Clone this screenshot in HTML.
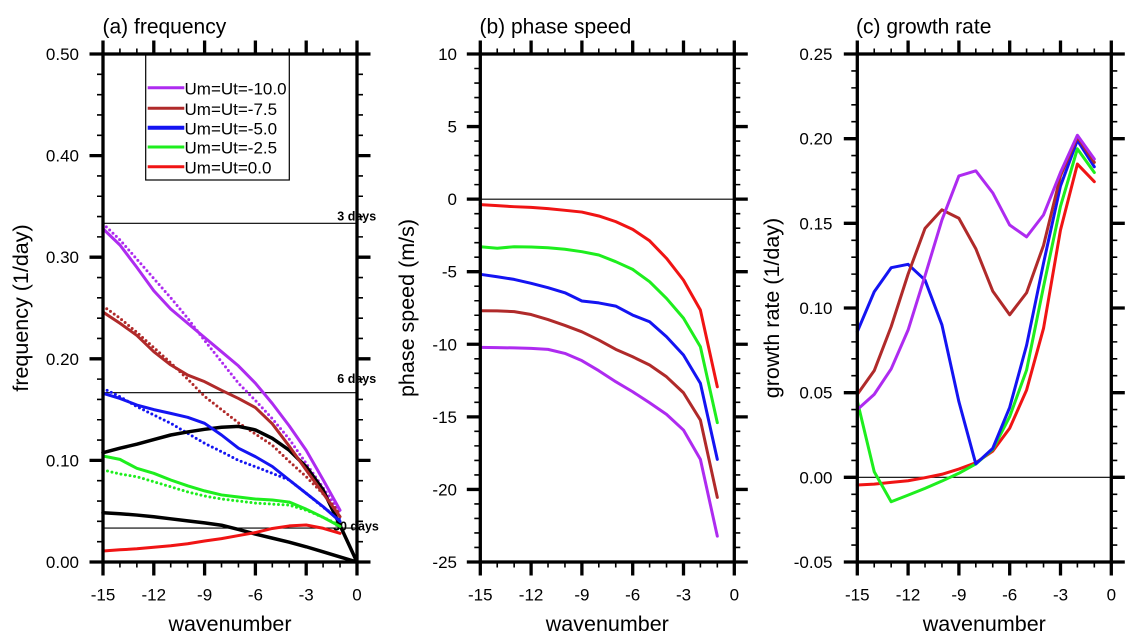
<!DOCTYPE html>
<html>
<head>
<meta charset="utf-8">
<style>
html,body{margin:0;padding:0;background:#fff;}
body{width:1144px;height:641px;overflow:hidden;}
svg{display:block;font-family:"Liberation Sans",Arial,Helvetica,sans-serif;}
.ns{vector-effect:non-scaling-stroke;fill:none;stroke-linejoin:round;stroke-linecap:round;}
.dot{fill:none;stroke-width:3;stroke-dasharray:0 4.6;stroke-linecap:round;stroke-linejoin:round;}
</style>
</head>
<body>
<svg width="1144" height="641" viewBox="0 0 1144 641" xmlns="http://www.w3.org/2000/svg">
<defs>
  <g id="xt">
    <path d="M103 562v13.5M153.8 562v13.5M204.6 562v13.5M255.4 562v13.5M306.2 562v13.5M357 562v13.5M103 54v-13.5M153.8 54v-13.5M204.6 54v-13.5M255.4 54v-13.5M306.2 54v-13.5M357 54v-13.5" stroke="#000" stroke-width="3.3"/>
    <path d="M119.93 562v5.5M136.86 562v5.5M170.72 562v5.5M187.65 562v5.5M221.51 562v5.5M238.44 562v5.5M272.3 562v5.5M289.23 562v5.5M323.09 562v5.5M340.02 562v5.5M119.93 54v-5.5M136.86 54v-5.5M170.72 54v-5.5M187.65 54v-5.5M221.51 54v-5.5M238.44 54v-5.5M272.3 54v-5.5M289.23 54v-5.5M323.09 54v-5.5M340.02 54v-5.5" stroke="#000" stroke-width="1.6"/>
  </g>
  <g id="ya">
    <path d="M103 54h-13.5M103 155.6h-13.5M103 257.2h-13.5M103 358.8h-13.5M103 460.4h-13.5M103 562h-13.5" stroke="#000" stroke-width="3.3"/>
    <path d="M103 74.32h-6M103 94.64h-6M103 114.96h-6M103 135.28h-6M103 175.92h-6M103 196.24h-6M103 216.56h-6M103 236.88h-6M103 277.52h-6M103 297.84h-6M103 318.16h-6M103 338.48h-6M103 379.12h-6M103 399.44h-6M103 419.76h-6M103 440.08h-6M103 480.72h-6M103 501.04h-6M103 521.36h-6M103 541.68h-6" stroke="#000" stroke-width="1.6"/>
  </g>
  <g id="yb">
    <path d="M480.3 54h-13.5M480.3 126.57h-13.5M480.3 199.14h-13.5M480.3 271.71h-13.5M480.3 344.28h-13.5M480.3 416.85h-13.5M480.3 489.42h-13.5M480.3 562h-13.5" stroke="#000" stroke-width="3.3"/>
    <path d="M480.3 68.51h-6M480.3 83.03h-6M480.3 97.54h-6M480.3 112.06h-6M480.3 141.08h-6M480.3 155.6h-6M480.3 170.11h-6M480.3 184.63h-6M480.3 213.65h-6M480.3 228.17h-6M480.3 242.68h-6M480.3 257.2h-6M480.3 286.22h-6M480.3 300.74h-6M480.3 315.25h-6M480.3 329.77h-6M480.3 358.79h-6M480.3 373.31h-6M480.3 387.82h-6M480.3 402.34h-6M480.3 431.36h-6M480.3 445.88h-6M480.3 460.39h-6M480.3 474.91h-6M480.3 503.93h-6M480.3 518.45h-6M480.3 532.96h-6M480.3 547.48h-6" stroke="#000" stroke-width="1.6"/>
  </g>
  <g id="yc">
    <path d="M857.3 54h-13.5M857.3 138.67h-13.5M857.3 223.33h-13.5M857.3 308h-13.5M857.3 392.67h-13.5M857.3 477.33h-13.5M857.3 562h-13.5" stroke="#000" stroke-width="3.3"/>
    <path d="M857.3 70.93h-6M857.3 87.87h-6M857.3 104.8h-6M857.3 121.73h-6M857.3 155.6h-6M857.3 172.53h-6M857.3 189.47h-6M857.3 206.4h-6M857.3 240.27h-6M857.3 257.2h-6M857.3 274.13h-6M857.3 291.07h-6M857.3 324.93h-6M857.3 341.87h-6M857.3 358.8h-6M857.3 375.73h-6M857.3 409.6h-6M857.3 426.53h-6M857.3 443.47h-6M857.3 460.4h-6M857.3 494.27h-6M857.3 511.2h-6M857.3 528.13h-6M857.3 545.07h-6" stroke="#000" stroke-width="1.6"/>
  </g>
</defs>

<!-- ================= PANEL A ================= -->
<text x="102.5" y="33.3" font-size="21">(a) frequency</text>
<!-- reference lines -->
<path d="M103 223.3H357M103 392.7H357M103 528.1H357" stroke="#000" stroke-width="1.1"/>
<text x="337.3" y="220.7" font-size="12.5" font-weight="bold">3 days</text>
<text x="337.3" y="383" font-size="12.5" font-weight="bold">6 days</text>
<text x="333" y="530.5" font-size="12.5" font-weight="bold">30 days</text>

<!-- dotted -->
<polyline class="dot" stroke="#AE2BF0" points="103,223.7 119.93,239.9 136.86,259.2 153.79,278.5 170.72,297.8 187.65,318.2 204.58,340.5 221.51,361.8 238.44,383.2 255.37,400.5 272.3,418.7 289.23,439.1 306.16,463.4 323.09,487.8 340.02,512.7"/>
<polyline class="dot" stroke="#B02A2A" points="103,306.0 119.93,318.2 136.86,332.4 153.79,347.6 170.72,362.9 187.65,379.1 204.58,396.4 221.51,409.6 238.44,422.8 255.37,434.0 272.3,445.2 289.23,461.4 306.16,476.7 323.09,493.9 340.02,513.2"/>
<polyline class="dot" stroke="#1414F2" points="103,388.3 119.93,396.7 136.86,406.6 153.79,415.0 170.72,423.3 187.65,433.3 204.58,443.3 221.51,451.7 238.44,460.4 255.37,466.7 272.3,473.3 289.23,480.0 306.16,493.3 323.09,507.1 340.02,519.3"/>
<polyline class="dot" stroke="#1EEE1E" points="103,470.0 119.93,474.0 136.86,476.7 153.79,481.7 170.72,486.8 187.65,491.9 204.58,496.0 221.51,499.0 238.44,501.0 255.37,503.1 272.3,504.1 289.23,505.1 306.16,510.2 323.09,517.3 340.02,525.4"/>

<g transform="translate(103,562) scale(16.93,-1016)">
  <polyline class="ns" stroke="#000" stroke-width="3.5" points="0,.1076 1,.112 2,.116 3,.1205 4,.125 5,.128 6,.1306 7,.1326 8,.1335 9,.130 10,.1217 11,.110 12,.0938 13,.0709 14,.036 15,0"/>
  <polyline class="ns" stroke="#000" stroke-width="3.5" points="0,.0485 1,.0475 2,.0462 3,.0445 4,.0425 5,.0405 6,.0385 7,.0362 8,.032 9,.0275 10,.0235 11,.0195 12,.015 13,.010 14,.005 15,0"/>
  <polyline class="ns" stroke="#F01414" stroke-width="3" points="0,.0108 1,.012 2,.013 3,.0145 4,.016 5,.018 6,.0207 7,.023 8,.026 9,.029 10,.033 11,.0355 12,.0364 13,.0332 14,.0282"/>
  <polyline class="ns" stroke="#1EEE1E" stroke-width="3" points="0,.1043 1,.101 2,.0922 3,.0873 4,.0807 5,.075 6,.070 7,.066 8,.064 9,.062 10,.061 11,.059 12,.052 13,.044 14,.035"/>
  <polyline class="ns" stroke="#1414F2" stroke-width="3" points="0,.166 1,.161 2,.1545 3,.150 4,.1463 5,.1424 6,.1365 7,.125 8,.112 9,.1037 10,.094 11,.0807 12,.0676 13,.0545 14,.040"/>
  <polyline class="ns" stroke="#B02A2A" stroke-width="3" points="0,.246 1,.235 2,.223 3,.207 4,.194 5,.184 6,.1775 7,.169 8,.161 9,.152 10,.136 11,.114 12,.0906 13,.0676 14,.0446"/>
  <polyline class="ns" stroke="#AE2BF0" stroke-width="3" points="0,.328 1,.312 2,.290 3,.267 4,.249 5,.235 6,.221 7,.207 8,.193 9,.176 10,.156 11,.134 12,.110 13,.081 14,.051"/>
</g>

<!-- legend -->
<rect x="145.7" y="54" width="143.6" height="126" fill="none" stroke="#000" stroke-width="1.2"/>
<path d="M147.7 87.7H184.3" stroke="#AE2BF0" stroke-width="3"/>
<path d="M147.7 108.3H184.3" stroke="#B02A2A" stroke-width="3"/>
<path d="M147.7 127.7H184.3" stroke="#1414F2" stroke-width="4"/>
<path d="M147.7 147H184.3" stroke="#1EEE1E" stroke-width="3"/>
<path d="M147.7 166.7H184.3" stroke="#F01414" stroke-width="3"/>
<g font-size="17">
  <text x="184.5" y="94.3">Um=Ut=-10.0</text>
  <text x="184.5" y="114.9">Um=Ut=-7.5</text>
  <text x="184.5" y="134.3">Um=Ut=-5.0</text>
  <text x="184.5" y="153.6">Um=Ut=-2.5</text>
  <text x="184.5" y="173.3">Um=Ut=0.0</text>
</g>

<rect x="103" y="54" width="254" height="508" fill="none" stroke="#000" stroke-width="3.3"/>
<use href="#xt"/>
<use href="#ya"/>
<use href="#ya" transform="translate(460,0) scale(-1,1)"/>
<g font-size="17" text-anchor="end">
  <text x="79" y="60">0.50</text>
  <text x="79" y="161.6">0.40</text>
  <text x="79" y="263.2">0.30</text>
  <text x="79" y="364.8">0.20</text>
  <text x="79" y="466.4">0.10</text>
  <text x="79" y="568">0.00</text>
</g>
<g font-size="17" text-anchor="middle">
  <text x="103" y="600.5">-15</text>
  <text x="153.8" y="600.5">-12</text>
  <text x="204.6" y="600.5">-9</text>
  <text x="255.4" y="600.5">-6</text>
  <text x="306.2" y="600.5">-3</text>
  <text x="357" y="600.5">0</text>
</g>
<text x="230" y="631" font-size="21.5" text-anchor="middle">wavenumber</text>
<text transform="translate(28,308) rotate(-90)" font-size="21.5" text-anchor="middle">frequency (1/day)</text>

<!-- ================= PANEL B ================= -->
<text x="479.5" y="33.3" font-size="21">(b) phase speed</text>
<path d="M480.3 199.14H734.3" stroke="#000" stroke-width="1.1"/>
<g transform="translate(480.3,199.14) scale(16.93,-14.514)">
  <polyline class="ns" stroke="#AE2BF0" stroke-width="3" points="0,-10.21 1,-10.23 2,-10.25 3,-10.28 4,-10.35 5,-10.63 6,-11.13 7,-11.82 8,-12.58 9,-13.27 10,-14.03 11,-14.83 12,-15.91 13,-17.93 14,-23.22"/>
  <polyline class="ns" stroke="#B02A2A" stroke-width="3" points="0,-7.69 1,-7.7 2,-7.75 3,-7.95 4,-8.3 5,-8.7 6,-9.14 7,-9.71 8,-10.35 9,-10.86 10,-11.43 11,-12.24 12,-13.34 13,-15.22 14,-20.55"/>
  <polyline class="ns" stroke="#1414F2" stroke-width="3" points="0,-5.18 1,-5.35 2,-5.53 3,-5.8 4,-6.1 5,-6.45 6,-7.02 7,-7.15 8,-7.37 9,-7.99 10,-8.45 11,-9.48 12,-10.74 13,-12.69 14,-17.93"/>
  <polyline class="ns" stroke="#1EEE1E" stroke-width="3" points="0,-3.28 1,-3.38 2,-3.28 3,-3.3 4,-3.35 5,-3.45 6,-3.62 7,-3.85 8,-4.31 9,-4.84 10,-5.69 11,-6.84 12,-8.2 13,-10.17 14,-15.4"/>
  <polyline class="ns" stroke="#F01414" stroke-width="3" points="0,-0.38 1,-0.45 2,-0.52 3,-0.57 4,-0.65 5,-0.77 6,-0.89 7,-1.16 8,-1.55 9,-2.08 10,-2.87 11,-4.08 12,-5.58 13,-7.64 14,-12.93"/>
</g>
<rect x="480.3" y="54" width="254" height="508" fill="none" stroke="#000" stroke-width="3.3"/>
<use href="#xt" transform="translate(377.3,0)"/>
<use href="#yb"/>
<use href="#yb" transform="translate(1214.6,0) scale(-1,1)"/>
<g font-size="17" text-anchor="end">
  <text x="457" y="60">10</text>
  <text x="457" y="132.57">5</text>
  <text x="457" y="205.14">0</text>
  <text x="457" y="277.71">-5</text>
  <text x="457" y="350.28">-10</text>
  <text x="457" y="422.85">-15</text>
  <text x="457" y="495.42">-20</text>
  <text x="457" y="568">-25</text>
</g>
<g font-size="17" text-anchor="middle">
  <text x="480.3" y="600.5">-15</text>
  <text x="531.1" y="600.5">-12</text>
  <text x="581.9" y="600.5">-9</text>
  <text x="632.7" y="600.5">-6</text>
  <text x="683.5" y="600.5">-3</text>
  <text x="734.3" y="600.5">0</text>
</g>
<text x="607.3" y="631" font-size="21.5" text-anchor="middle">wavenumber</text>
<text transform="translate(414,308) rotate(-90)" font-size="21.5" text-anchor="middle">phase speed (m/s)</text>

<!-- ================= PANEL C ================= -->
<text x="856" y="33.3" font-size="21">(c) growth rate</text>
<path d="M857.3 477.33H1111.3" stroke="#000" stroke-width="1.1"/>
<g transform="translate(857.3,477.33) scale(16.93,-1693.3)">
  <polyline class="ns" stroke="#F01414" stroke-width="3" points="0,-.0045 1,-.004 2,-.003 3,-.002 4,-.0002 5,.0018 6,.0049 7,.0086 8,.0155 9,.029 10,.0516 11,.088 12,.146 13,.185 14,.1746"/>
  <polyline class="ns" stroke="#1EEE1E" stroke-width="3" points="0,.045 1,.0033 2,-.0144 3,-.0105 4,-.0065 5,-.0022 6,.0024 7,.0079 8,.0165 9,.0358 10,.0634 11,.1126 12,.160 13,.194 14,.180"/>
  <polyline class="ns" stroke="#1414F2" stroke-width="3" points="0,.086 1,.1096 2,.1238 3,.1258 4,.1165 5,.090 6,.0447 7,.0079 8,.0171 9,.0413 10,.078 11,.1265 12,.172 13,.199 14,.1834"/>
  <polyline class="ns" stroke="#B02A2A" stroke-width="3" points="0,.049 1,.063 2,.089 3,.120 4,.147 5,.158 6,.153 7,.135 8,.110 9,.096 10,.109 11,.137 12,.178 13,.201 14,.186"/>
  <polyline class="ns" stroke="#AE2BF0" stroke-width="3" points="0,.040 1,.049 2,.064 3,.087 4,.119 5,.152 6,.178 7,.181 8,.168 9,.149 10,.142 11,.155 12,.180 13,.202 14,.188"/>
</g>
<rect x="857.3" y="54" width="254" height="508" fill="none" stroke="#000" stroke-width="3.3"/>
<use href="#xt" transform="translate(754.3,0)"/>
<use href="#yc"/>
<use href="#yc" transform="translate(1968.6,0) scale(-1,1)"/>
<g font-size="17" text-anchor="end">
  <text x="832.5" y="60">0.25</text>
  <text x="832.5" y="144.67">0.20</text>
  <text x="832.5" y="229.33">0.15</text>
  <text x="832.5" y="314">0.10</text>
  <text x="832.5" y="398.67">0.05</text>
  <text x="832.5" y="483.33">0.00</text>
  <text x="832.5" y="568">-0.05</text>
</g>
<g font-size="17" text-anchor="middle">
  <text x="857.3" y="600.5">-15</text>
  <text x="908.1" y="600.5">-12</text>
  <text x="958.9" y="600.5">-9</text>
  <text x="1009.7" y="600.5">-6</text>
  <text x="1060.5" y="600.5">-3</text>
  <text x="1111.3" y="600.5">0</text>
</g>
<text x="984.3" y="631" font-size="21.5" text-anchor="middle">wavenumber</text>
<text transform="translate(779,308) rotate(-90)" font-size="21.5" text-anchor="middle">growth rate (1/day)</text>
</svg>
</body>
</html>
